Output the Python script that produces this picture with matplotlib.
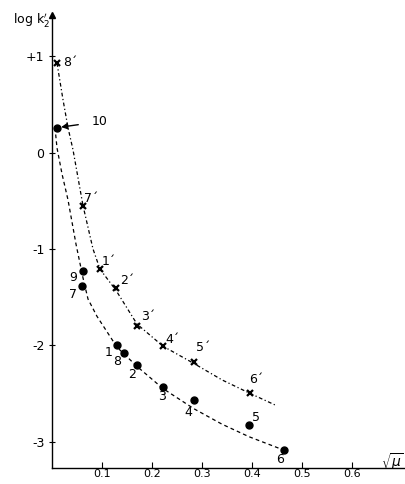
import numpy as np
import matplotlib.pyplot as plt

# primed series (crosses)
x_cross = [0.010, 0.062, 0.096, 0.128, 0.170, 0.222, 0.284, 0.396]
y_cross = [0.93, -0.55, -1.21, -1.41, -1.80, -2.01, -2.17, -2.50]
lab_cross = ["8´", "7´", "1´", "2´", "3´", "4´", "5´", "6´"]
off_cross = [(13, 1), (8, 7), (9, 8), (11, 8), (11, 9), (9, 7), (9, 14), (6, 14)]

# unprimed series (dots)
x_dot = [0.010, 0.062, 0.060, 0.130, 0.144, 0.170, 0.222, 0.284, 0.394, 0.464]
y_dot = [0.26, -1.23, -1.38, -2.00, -2.08, -2.21, -2.43, -2.57, -2.83, -3.09]
lab_dot = ["10", "9", "7", "1", "8", "2", "3", "4", "5", "6"]
off_dot = [None, (-10, -6), (-9, -9), (-8, -7), (-7, -9), (-5, -9), (-1, -10), (-6, -12), (7, 8), (-4, -9)]

# hand drawn curves
x_up = [0.010, 0.022, 0.032, 0.042, 0.062, 0.082, 0.096, 0.128, 0.170, 0.222, 0.284, 0.340, 0.396, 0.446]
y_up = [0.93, 0.55, 0.26, 0.03, -0.55, -1.00, -1.21, -1.43, -1.78, -2.01, -2.19, -2.36, -2.50, -2.62]
x_lo = [0.006, 0.010, 0.020, 0.032, 0.048, 0.062, 0.072, 0.090, 0.130, 0.170, 0.222, 0.284, 0.340, 0.394, 0.464]
y_lo = [0.26, 0.05, -0.22, -0.49, -0.95, -1.30, -1.52, -1.70, -2.02, -2.22, -2.45, -2.66, -2.82, -2.95, -3.09]

xticks = [0.1, 0.2, 0.3, 0.4, 0.5, 0.6]
yticks = [1, 0, -1, -2, -3]
ytick_labels = ["+1", "0", "-1", "-2", "-3"]

fig = plt.figure(figsize=(4.06, 4.84), dpi=100)
ax = fig.add_axes([52 / 406, 16 / 484, 354 / 406, 453 / 484])

ax.plot(x_up, y_up, color="k", lw=0.9, dashes=(3, 2, 1, 2))
ax.plot(x_lo, y_lo, color="k", lw=0.9, dashes=(3, 2.5))
ax.plot(x_cross, y_cross, "x", color="k", ms=5, mew=1.6)
ax.plot(x_dot, y_dot, "o", color="k", ms=5)

px = 0.72  # pixel -> points at 100 dpi
for x, y, t, o in zip(x_cross, y_cross, lab_cross, off_cross):
    ax.annotate(t, (x, y), xytext=(o[0] * px, o[1] * px), textcoords="offset points",
                ha="center", va="center", fontsize=9)
for x, y, t, o in zip(x_dot, y_dot, lab_dot, off_dot):
    if o is None:
        ax.annotate(t, (x, y), xytext=(43 * px, 6 * px), textcoords="offset points",
                    ha="center", va="center", fontsize=9,
                    arrowprops=dict(arrowstyle="-|>", color="k", lw=1.0, shrinkA=8, shrinkB=3))
    else:
        ax.annotate(t, (x, y), xytext=(o[0] * px, o[1] * px), textcoords="offset points",
                    ha="center", va="center", fontsize=9)

ax.set_xlim(0, 0.708)
ax.set_ylim(-3.275, 1.43)
for s in ["top", "right"]:
    ax.spines[s].set_visible(False)
ax.spines["left"].set_linewidth(1.0)
ax.spines["bottom"].set_linewidth(1.0)
ax.plot(0, 1, "^", color="k", ms=5, transform=ax.transAxes, clip_on=False)

ax.set_xticks(xticks)
ax.set_xticklabels([str(v) for v in xticks])
ax.set_yticks(yticks)
ax.set_yticklabels(ytick_labels)
ax.tick_params(axis="x", direction="in", length=4, width=0.8, labelsize=8, pad=1)
ax.tick_params(axis="y", direction="inout", length=5, width=0.8, labelsize=9, pad=3)

fig.text(13 / 406, 1 - 20 / 484, r"log k$_2'$", fontsize=9, ha="left", va="center")
fig.text(392 / 406, 1 - 462 / 484, r"$\sqrt{\mu}$", fontsize=10, ha="center", va="center")

fig.savefig("out.png", dpi=100)
